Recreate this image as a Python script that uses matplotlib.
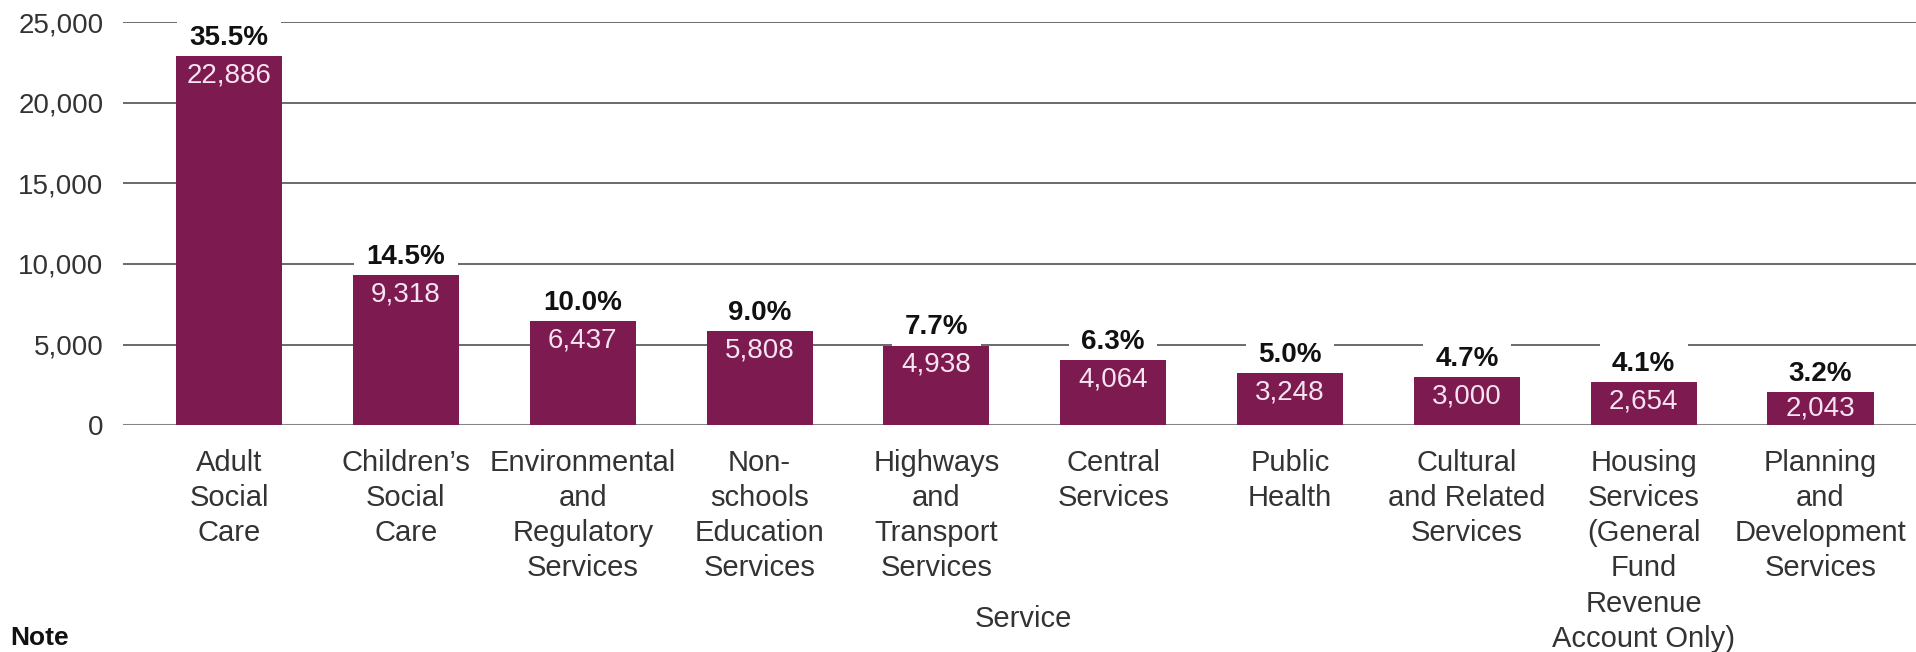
import matplotlib.pyplot as plt

plt.rcParams['font.family'] = ['Liberation Sans', 'DejaVu Sans']

# Net current expenditure by service
services = [
    "Adult\nSocial\nCare",
    "Children\u2019s\nSocial\nCare",
    "Environmental\nand\nRegulatory\nServices",
    "Non-\nschools\nEducation\nServices",
    "Highways\nand\nTransport\nServices",
    "Central\nServices",
    "Public\nHealth",
    "Cultural\nand Related\nServices",
    "Housing\nServices\n(General\nFund\nRevenue\nAccount Only)",
    "Planning\nand\nDevelopment\nServices",
]
spend = [22886, 9318, 6437, 5808, 4938, 4064, 3248, 3000, 2654, 2043]
share = [35.5, 14.5, 10.0, 9.0, 7.7, 6.3, 5.0, 4.7, 4.1, 3.2]
yticks = [0, 5000, 10000, 15000, 20000, 25000]

bar_color = "#7d1a50"
text_color = "#333333"

fig = plt.figure(figsize=(19.16, 6.52), dpi=100)
ax = fig.add_axes([123 / 1916, 0.348, 1 - 123 / 1916, 0.618])

x = range(len(services))
ax.bar(x, spend, width=0.6, color=bar_color, zorder=3)

# horizontal reference lines
for v in yticks:
    ax.axhline(v, color="#6a6a6a" if v else "#858585",
               linewidth=1.4 if v else 2.2, zorder=1)

# points per data unit, used to keep value labels inside short bars
pts_per_unit = 0.618 * 6.52 * 72 / 25000

for xi, v, p in zip(x, spend, share):
    drop = min(14, v * pts_per_unit / 2)
    ax.annotate(f"{v:,}", (xi, v), xytext=(0, -drop), textcoords="offset points",
                ha="center", va="center", fontsize=20, color="#f6e4f1", zorder=4)
    ax.annotate(f"{p:.1f}%", (xi, v), xytext=(0, 13), textcoords="offset points",
                ha="center", va="center", fontsize=20, fontweight="bold", color="#111111",
                zorder=2,
                bbox=dict(facecolor="white", edgecolor="none", pad=9))

ax.set_xlim(-0.60, 9.54)
ax.set_ylim(0, 25000)
ax.set_yticks(yticks)
ax.set_yticklabels([f"{t:,}" for t in yticks])
ax.set_xticks(list(x))
ax.set_xticklabels(services, linespacing=1.33)
ax.tick_params(axis="both", length=0, labelcolor=text_color)
ax.tick_params(axis="x", pad=17, labelsize=21)
ax.tick_params(axis="y", pad=14, labelsize=20)
for s in ax.spines.values():
    s.set_visible(False)

fig.text(1023 / 1916, 1 - 619 / 652, "Service", ha="center", va="center",
         fontsize=21, color=text_color)
fig.text(10 / 1916, 1 - 638 / 652, "Note", ha="left", va="center",
         fontsize=19, fontweight="bold", color="#111111")

fig.savefig("out.png", dpi=100)
